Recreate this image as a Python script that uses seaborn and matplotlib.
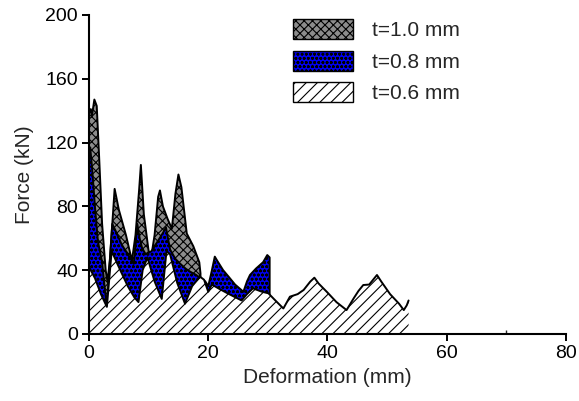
import matplotlib
matplotlib.use("Agg")
import matplotlib.pyplot as plt
from matplotlib.patches import Patch
import seaborn as sns

# Force-deformation curves for three wall thicknesses
x_10 = [0.0, 0.3, 0.5, 0.9, 1.3, 1.7, 2.2, 2.8, 3.1, 3.5, 4.3, 5.0, 6.2, 7.2, 7.8, 8.4, 8.7,
        9.2, 10.0, 10.5, 11.0, 11.6, 11.9, 12.4, 13.2, 13.9, 14.5, 15.0, 15.5, 16.4, 17.5,
        18.0, 18.5, 18.7, 18.7]
f_10 = [138, 141, 137, 147, 143, 111, 69, 40, 33, 46, 91, 78, 62, 46, 62, 90, 106,
        75, 52, 50, 62, 86, 90, 80, 72, 66, 88, 100, 92, 63, 55,
        50, 45, 38, 0]

x_08 = [0.0, 0.2, 0.5, 1.0, 1.5, 2.2, 2.6, 3.0, 3.3, 3.9, 4.3, 5.5, 6.5, 7.5, 7.8, 8.1, 8.5,
        8.9, 9.5, 10.5, 11.5, 12.5, 12.9, 13.6, 14.5, 15.3, 16.2, 17.0, 18.0, 18.6, 19.5,
        20.0, 20.5, 21.1, 21.5, 22.5, 23.4, 24.5, 25.9, 26.5, 27.0, 28.0, 29.2, 29.9, 30.3, 30.3]
f_08 = [112, 117, 105, 80, 58, 45, 30, 17, 35, 69, 66, 56, 50, 44, 55, 69, 60,
        54, 50, 52, 58, 64, 67, 53, 47, 44, 41, 39, 37, 35, 33,
        30, 38, 48.5, 46, 40, 36, 31, 26.5, 33, 37, 41, 45, 49.5, 48, 0]

x_06 = [0.0, 1.0, 2.0, 3.0, 3.8, 5.0, 6.5, 7.6, 8.3, 9.0, 9.8, 11.0, 12.2, 13.0,
        13.6, 14.8, 16.1, 17.3, 18.6, 19.3, 20.0, 20.6, 22.0, 23.5, 25.6, 26.5, 27.5, 29.0,
        30.1, 31.0, 32.6, 33.7, 35.0, 36.0, 37.1, 37.8, 38.5, 40.0, 41.5, 43.2, 44.4, 45.2,
        46.0, 47.0, 48.3, 49.0, 50.5, 52.0, 52.8, 53.3, 53.6]
f_06 = [42, 35, 25, 17, 52, 42, 30, 23, 20, 40, 48, 33, 22, 52,
        50, 32, 19, 30, 36, 34, 26.5, 31, 28, 25, 21, 25, 28.6, 26.5,
        25.5, 22, 16, 23.4, 25, 27.6, 32.8, 35.3, 31.7, 26, 20, 15, 22.4, 27,
        30.7, 31, 37, 33, 25, 19, 15, 18, 21]

labels = ["t=1.0 mm", "t=0.8 mm", "t=0.6 mm"]

sns.set_style("ticks")
plt.rcParams["font.family"] = ["Liberation Sans", "DejaVu Sans"]
plt.rcParams["hatch.linewidth"] = 0.8

fig = plt.figure(figsize=(5.79, 4.01), dpi=100)
ax = fig.add_axes([0.1537, 0.1671, 0.8238, 0.7955])

styles = [
    dict(x=x_10, y=f_10, face="#8c8c8c", hatch="xxxx", z=1),
    dict(x=x_08, y=f_08, face="#0000f0", hatch="oooo", z=2),
    dict(x=x_06, y=f_06, face="white", hatch="///", z=3),
]

for s in styles:
    ax.fill_between(s["x"], 0, s["y"], facecolor=s["face"], edgecolor="black",
                    hatch=s["hatch"], linewidth=0, zorder=s["z"])
    sns.lineplot(x=s["x"], y=s["y"], ax=ax, color="black", linewidth=1.4,
                 sort=False, estimator=None, zorder=s["z"] + 0.5)

ax.set_xlim(0, 80)
ax.set_ylim(0, 200)
ax.set_xticks([0, 20, 40, 60, 80])
ax.set_yticks([0, 40, 80, 120, 160, 200])
ax.set_xticks([10, 30, 50, 70], minor=True)
ax.tick_params(axis="both", which="major", direction="out", length=5, width=1.4,
               labelsize=14, colors="black", pad=3)
ax.tick_params(axis="x", which="minor", direction="in", length=3, width=1.0)
for side in ["left", "bottom"]:
    ax.spines[side].set_linewidth(1.5)
    ax.spines[side].set_color("black")
    ax.spines[side].set_zorder(6)
sns.despine(ax=ax)

ax.set_xlabel("Deformation (mm)", fontsize=15, labelpad=4)
ax.set_ylabel("Force (kN)", fontsize=15, labelpad=8)

handles = [Patch(facecolor=s["face"], edgecolor="black", hatch=s["hatch"], linewidth=1.0)
           for s in styles]
fig.legend(handles, labels, loc="upper left", bbox_to_anchor=(293 / 579, 1 - 19 / 401),
           frameon=False, fontsize=15, handlelength=2.9, handleheight=1.1,
           labelspacing=0.5, handletextpad=0.9, borderpad=0, borderaxespad=0)

fig.savefig("out.png", dpi=100)
